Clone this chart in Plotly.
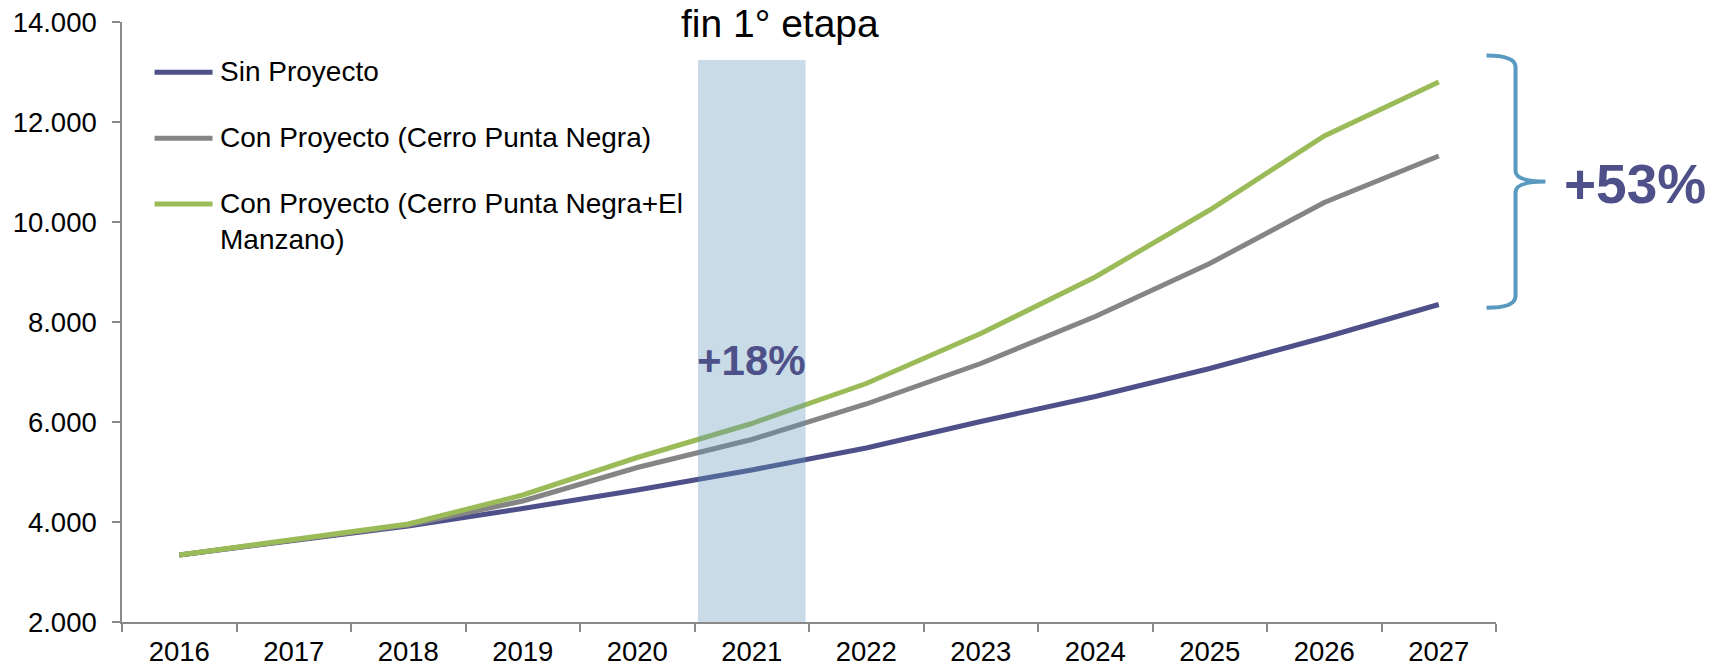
import plotly.graph_objects as go

# data
years = ["2016", "2017", "2018", "2019", "2020", "2021",
         "2022", "2023", "2024", "2025", "2026", "2027"]
sin_proyecto = [3340, 3640, 3920, 4270, 4640, 5040, 5480, 6010, 6510, 7070, 7690, 8350]
con_cpn = [3340, 3640, 3940, 4420, 5090, 5650, 6360, 7170, 8110, 9170, 10390, 11320]
con_cpn_em = [3340, 3640, 3960, 4540, 5290, 5970, 6770, 7770, 8900, 10240, 11720, 12800]

series_names = ["Sin Proyecto",
                "Con Proyecto (Cerro Punta Negra)",
                "Con Proyecto (Cerro Punta Negra+El<br>Manzano)"]
series_colors = ["#4e5089", "#858585", "#9bbb59"]

FONT = "Arial, Liberation Sans, sans-serif"
AXIS_COLOR = "#8a8a8a"
ACCENT = "#4e5089"

fig = go.Figure()
for name, vals, col in zip(series_names, [sin_proyecto, con_cpn, con_cpn_em], series_colors):
    fig.add_trace(go.Scatter(x=years, y=vals, mode="lines", name=name,
                             line=dict(color=col, width=5), showlegend=False,
                             hoverinfo="skip"))

# shaded band for 2021 (drawn over the lines, semi-transparent)
fig.add_shape(type="rect", xref="x", yref="y", x0=4.53, x1=5.47, y0=2000, y1=13240,
              fillcolor="rgba(96,149,184,0.34)", line_width=0, layer="above")

# hand-made legend (long line samples like the original)
legend_y = [0.9162, 0.8062, 0.6967]
for name, col, ly in zip(series_names, series_colors, legend_y):
    fig.add_shape(type="line", xref="paper", yref="paper", x0=0.0237, x1=0.0659,
                  y0=ly, y1=ly, line=dict(color=col, width=5))
    fig.add_annotation(xref="paper", yref="paper", x=0.0696, y=ly + 0.030,
                       text=name, showarrow=False, xanchor="left", yanchor="top",
                       align="left", font=dict(family=FONT, size=28, color="black"))

# brace on the right side
brace = ("M 0.9931,0.9442 Q 1.0142,0.9442 1.0142,0.925 L 1.0142,0.752 "
         "Q 1.0142,0.734 1.036,0.734 Q 1.0142,0.734 1.0142,0.716 L 1.0142,0.543 "
         "Q 1.0142,0.5238 0.9931,0.5238")
fig.add_shape(type="path", xref="paper", yref="paper", path=brace,
              line=dict(color="#5b9ac0", width=4))

fig.add_annotation(xref="paper", yref="paper", x=1.1009, y=0.73, text="<b>+53%</b>",
                   showarrow=False, xanchor="center", yanchor="middle",
                   font=dict(family=FONT, size=55, color=ACCENT))
fig.add_annotation(xref="x", yref="y", x=5, y=7240, text="<b>+18%</b>",
                   showarrow=False, xanchor="center", yanchor="middle",
                   font=dict(family=FONT, size=42, color=ACCENT))
fig.add_annotation(xref="paper", yref="paper", x=0.4789, y=0.997, text="fin 1° etapa",
                   showarrow=False, xanchor="center", yanchor="middle",
                   font=dict(family=FONT, size=39, color="black"))

fig.update_layout(
    width=1716, height=668,
    margin=dict(l=122, r=220, t=22, b=46, autoexpand=False),
    paper_bgcolor="white", plot_bgcolor="white",
    separators=",.",
    font=dict(family=FONT, size=27.5, color="black"),
    showlegend=False,
)
fig.update_xaxes(type="category", range=[-0.5, 11.5], tickson="boundaries",
                 ticks="outside", ticklen=8, tickcolor=AXIS_COLOR, tickwidth=1.5,
                 showline=True, linecolor=AXIS_COLOR, linewidth=1.5, showgrid=False,
                 tickfont=dict(size=27.5), ticklabelstandoff=4, automargin=False)
fig.update_yaxes(range=[2000, 14000], dtick=2000, tickformat=",d",
                 ticks="outside", ticklen=8, tickcolor=AXIS_COLOR, tickwidth=1.5,
                 showline=True, linecolor=AXIS_COLOR, linewidth=1.5, showgrid=False,
                 zeroline=False, tickfont=dict(size=27.5), ticklabelstandoff=10,
                 automargin=False)

# the page body gets a default 8px margin; drop it so the figure fills the window
fig.write_html("out.html", config={"displayModeBar": False},
               post_script="document.body.style.margin='0';")
